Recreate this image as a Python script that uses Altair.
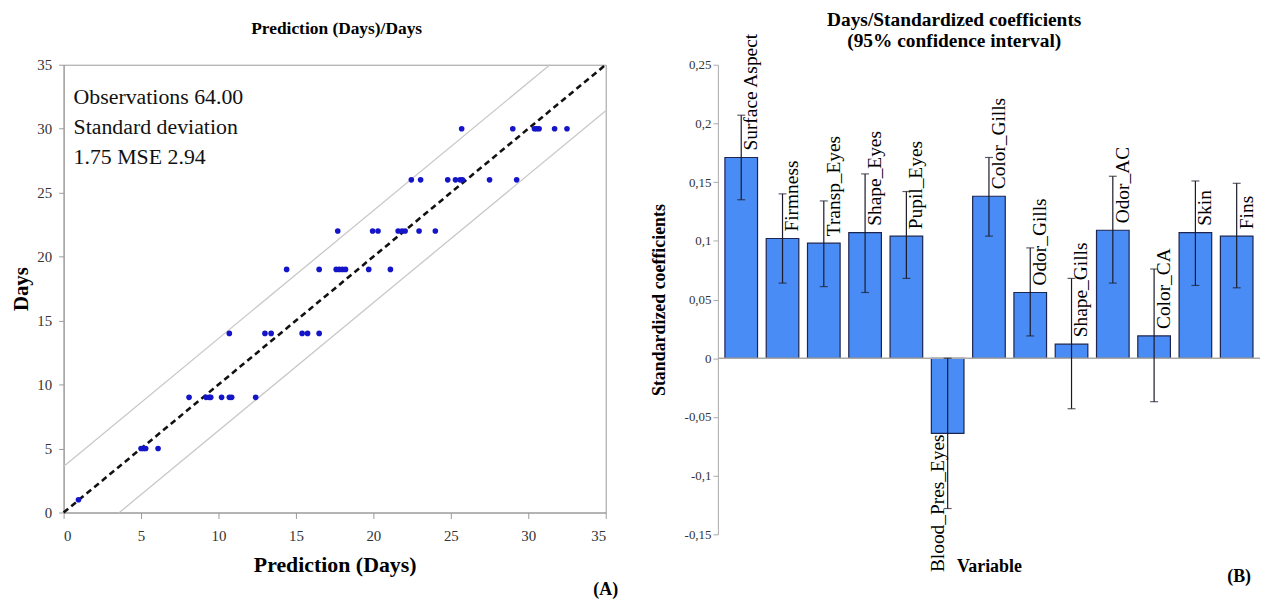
import altair as alt
import pandas as pd

SERIF = "Liberation Serif"

# ---------------- Panel A data ----------------
pred_days = [0.96,
             5.0, 5.15, 5.3, 6.1,
             8.1, 9.2, 9.4, 9.5, 10.2, 10.7, 10.85, 12.4,
             10.7, 13.0, 13.4, 15.4, 15.75, 16.5,
             14.4, 16.5, 17.6, 17.8, 18.0, 18.2, 19.7, 21.1,
             17.7, 19.95, 20.3, 21.6, 21.85, 22.05, 22.95, 24.0,
             22.45, 23.05, 24.8, 25.3, 25.6, 25.75, 27.5, 29.25,
             25.7, 29.0, 30.4, 30.55, 30.7, 31.7, 32.5]
obs_days = ([1] * 1 + [5] * 4 + [9] * 8 + [14] * 6 + [19] * 8 +
            [22] * 8 + [26] * 8 + [30] * 7)

diag_x = [0, 35]
diag_y = [0, 35]
upper_x = [0, 31.4]
upper_y = [3.6, 35]
lower_x = [3.6, 35]
lower_y = [0, 31.4]

title_a = "Prediction (Days)/Days"
stats_lines = ["Observations 64.00", "Standard deviation", "1.75 MSE 2.94"]
axis_ticks_a = [0, 5, 10, 15, 20, 25, 30, 35]

# ---------------- Panel B data ----------------
variables = ["Surface Aspect", "Firmness", "Transp_Eyes", "Shape_Eyes", "Pupil_Eyes",
             "Blood_Pres_Eyes", "Color_Gills", "Odor_Gills", "Shape_Gills", "Odor_AC",
             "Color_CA", "Skin", "Fins"]
coef = [0.171, 0.102, 0.098, 0.107, 0.104, -0.064, 0.138, 0.056, 0.012, 0.109, 0.019, 0.107, 0.104]
ci_low = [0.135, 0.064, 0.061, 0.056, 0.068, -0.128, 0.104, 0.019, -0.043, 0.064, -0.037, 0.062, 0.060]
ci_high = [0.207, 0.140, 0.134, 0.157, 0.142, 0.000, 0.171, 0.094, 0.068, 0.155, 0.076, 0.151, 0.149]
axis_ticks_b = [-0.15, -0.1, -0.05, 0, 0.05, 0.1, 0.15, 0.2, 0.25]
title_b = ["Days/Standardized coefficients", "(95% confidence interval)"]

one_row = pd.DataFrame({"k": [0]})

# ---------------- Panel A ----------------
WA, HA = 546, 451
scatter_df = pd.DataFrame({"x": pred_days, "y": obs_days})
diag_df = pd.DataFrame({"x": diag_x, "y": diag_y})
band_df = pd.DataFrame({"x": upper_x + lower_x, "y": upper_y + lower_y,
                        "side": ["upper"] * 2 + ["lower"] * 2})

axis_xa = alt.Axis(values=axis_ticks_a, title="Prediction (Days)", grid=False,
                   labelFont=SERIF, labelFontSize=15, labelColor="#333333",
                   titleFont=SERIF, titleFontSize=22, titleFontWeight="bold",
                   titleColor="#000000", titlePadding=11,
                   domainColor="#9a9a9a", tickColor="#9a9a9a", tickSize=6,
                   labelPadding=10)
axis_ya = alt.Axis(values=axis_ticks_a, title="Days", grid=False,
                   labelFont=SERIF, labelFontSize=15, labelColor="#333333",
                   titleFont=SERIF, titleFontSize=21, titleFontWeight="bold",
                   titleColor="#000000", titlePadding=5,
                   domainColor="#9a9a9a", tickColor="#9a9a9a", tickSize=5,
                   labelPadding=7)
xa = alt.X("x:Q", scale=alt.Scale(domain=[0, 35], nice=False), axis=axis_xa)
ya = alt.Y("y:Q", scale=alt.Scale(domain=[0, 35], nice=False), axis=axis_ya)

band_lines = alt.Chart(band_df).mark_line(color="#c8c8c8", strokeWidth=1.3).encode(
    x=xa, y=ya, detail="side:N")
diag_line = alt.Chart(diag_df).mark_line(color="#111111", strokeWidth=2.6,
                                         strokeDash=[6, 4]).encode(x=xa, y=ya)
points = alt.Chart(scatter_df).mark_circle(size=32, color="#1414c8", opacity=1).encode(
    x=xa, y=ya)
stats_text = alt.Chart(one_row).mark_text(
    font=SERIF, fontSize=22, align="left", baseline="middle", lineHeight=30,
    color="#111111").encode(x=alt.value(10), y=alt.value(33), text=alt.value(stats_lines))
title_text_a = alt.Chart(one_row).mark_text(
    font=SERIF, fontSize=17.5, fontWeight="bold", align="center", baseline="middle",
    color="#000000").encode(x=alt.value(275), y=alt.value(-36), text=alt.value(title_a))
label_a = alt.Chart(one_row).mark_text(
    font=SERIF, fontSize=18, fontWeight="bold", align="center", baseline="middle",
    color="#000000").encode(x=alt.value(546), y=alt.value(529), text=alt.value("(A)"))

panel_a = alt.layer(band_lines, diag_line, points, stats_text, title_text_a,
                    label_a).properties(
    width=WA, height=HA,
    view=alt.ViewBackground(stroke="#9a9a9a", strokeWidth=1))

# ---------------- Panel B ----------------
WB, HB = 546, 473
bars_df = pd.DataFrame({"var": variables, "coef": coef, "lo": ci_low, "hi": ci_high})

label_expr = ("datum.value == 0 ? '0' : (datum.value < 0 ? '-' : '') + "
              "replace(format(abs(datum.value), '.2~f'), '.', ',')")

axis_xb = alt.Axis(labels=False, ticks=False, domain=False, title="Variable",
                   titleFont=SERIF, titleFontSize=18, titleFontWeight="bold",
                   titleColor="#000000", titlePadding=23)
axis_yb = alt.Axis(values=axis_ticks_b, labelExpr=label_expr, grid=False,
                   title="Standardized coefficients",
                   labelFont=SERIF, labelFontSize=13, labelColor="#333333",
                   titleFont=SERIF, titleFontSize=18, titleFontWeight="bold",
                   titleColor="#000000", titlePadding=16,
                   domainColor="#aaaaaa", tickColor="#aaaaaa", tickSize=5,
                   labelPadding=2)
xb = alt.X("var:N", sort=variables,
           scale=alt.Scale(paddingInner=0.21, paddingOuter=0.17), axis=axis_xb)
yscale_b = alt.Scale(domain=[-0.15, 0.25], nice=False, zero=False)
yb = alt.Y("coef:Q", scale=yscale_b, axis=axis_yb)
ylo = alt.Y("lo:Q", scale=yscale_b, axis=axis_yb)
yhi = alt.Y("hi:Q", scale=yscale_b, axis=axis_yb)

bars = alt.Chart(bars_df).mark_bar(color="#4a8cf5", stroke="#1c2450",
                                   strokeWidth=1.2).encode(x=xb, y=yb)
zero_rule = alt.Chart(one_row).mark_rule(
    color="#aaaaaa", strokeWidth=1.5).encode(y=alt.datum(0, scale=yscale_b, axis=axis_yb))
err_rule = alt.Chart(bars_df).mark_rule(color="#1a1a2a", strokeWidth=1.2).encode(
    x=xb, y=ylo, y2="hi:Q")
cap_lo = alt.Chart(bars_df).mark_tick(color="#1a1a2a", size=8, thickness=1.2).encode(
    x=xb, y=ylo)
cap_hi = alt.Chart(bars_df).mark_tick(color="#1a1a2a", size=8, thickness=1.2).encode(
    x=xb, y=yhi)
pos_labels = alt.Chart(bars_df).transform_filter("datum.coef >= 0").mark_text(
    font=SERIF, fontSize=19.5, angle=270, align="left", baseline="top", dx=7, dy=1,
    color="#000000").encode(x=xb, y=yb, text="var:N")
neg_labels = alt.Chart(bars_df).transform_filter("datum.coef < 0").mark_text(
    font=SERIF, fontSize=19.5, angle=270, align="right", baseline="bottom", dx=-1,
    color="#000000").encode(x=xb, y=yb, text="var:N")
title_text_b = alt.Chart(one_row).mark_text(
    font=SERIF, fontSize=19.5, fontWeight="bold", align="center", baseline="middle",
    lineHeight=21, color="#000000").encode(
    x=alt.value(238), y=alt.value(-45), text=alt.value(title_b))
label_b = alt.Chart(one_row).mark_text(
    font=SERIF, fontSize=18, fontWeight="bold", align="center", baseline="middle",
    color="#000000").encode(x=alt.value(525), y=alt.value(516), text=alt.value("(B)"))

panel_b = alt.layer(bars, zero_rule, err_rule, cap_lo, cap_hi, pos_labels, neg_labels,
                    title_text_b, label_b).properties(width=WB, height=HB)

chart = alt.hconcat(panel_a, panel_b, spacing=31).properties(
    padding={"left": 2, "top": 0, "right": 0, "bottom": 0},
    background="#ffffff"
).configure_view(strokeWidth=0).configure_axis(
    labelFont=SERIF, titleFont=SERIF
).configure_title(font=SERIF)

chart.save("out.html", embed_options={"renderer": "svg", "actions": False})
